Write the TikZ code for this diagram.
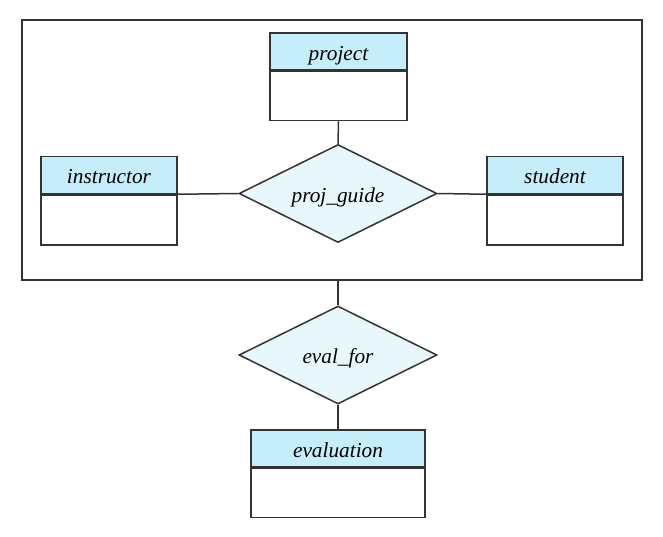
\documentclass[tikz,border=0pt]{standalone}
\usepackage{fontspec}
\newfontfamily\erfont{Liberation Serif Italic}
\usetikzlibrary{shapes.geometric}
\definecolor{hdr}{HTML}{C6EDFA}
\definecolor{dia}{HTML}{E8F7FC}
\definecolor{ln}{HTML}{333333}
\tikzset{
  every node/.style={font=\erfont\fontsize{21.3}{25}\selectfont, text height=17pt, text depth=0pt},
  hd/.style={draw=ln, line width=1.5pt, fill=hdr, rectangle, inner sep=0pt, minimum height=37pt},
  bd/.style={draw=ln, line width=1.5pt, fill=white, rectangle, inner sep=0pt, minimum height=49pt},
  rel/.style={draw=ln, line width=1.5pt, fill=dia, diamond, inner sep=0pt, shape aspect=2, minimum width=198pt, minimum height=98pt},
  conn/.style={draw=ln, line width=1.5pt},
}
\begin{document}
\begin{tikzpicture}[x=1pt,y=-1pt]
\useasboundingbox (0,0) rectangle (663,536);
% aggregation box
\node[draw=ln, line width=1.5pt, rectangle, minimum width=620pt, minimum height=260pt, inner sep=0pt] (agg) at (332,150) {};
% project
\node[hd, minimum width=137pt] (phead) at (338.5,51.5) {project};
\node[bd, minimum width=137pt, anchor=north] (pbody) at (phead.south) {};
% instructor
\node[hd, minimum width=136pt] (ihead) at (109,175) {instructor};
\node[bd, minimum width=136pt, minimum height=50pt, anchor=north] (ibody) at (ihead.south) {};
% student
\node[hd, minimum width=136pt] (shead) at (555,175) {student};
\node[bd, minimum width=136pt, minimum height=50pt, anchor=north] (sbody) at (shead.south) {};
% proj_guide
\node[rel] (pg) at (338,193.5) {proj\_guide};
% eval_for
\node[rel] (ef) at (338,355) {eval\_for};
% evaluation
\node[hd, minimum width=174pt] (ehead) at (338,448.5) {evaluation};
\node[bd, minimum width=174pt, anchor=north] (ebody) at (ehead.south) {};
% connectors
\draw[conn] (pbody.south) -- (pg.north);
\draw[conn] (ihead.south east) -- (pg.west);
\draw[conn] (pg.east) -- (shead.south west);
\draw[conn] (agg.south -| ef.north) -- (ef.north);
\draw[conn] (ef.south) -- (ehead.north);
\end{tikzpicture}
\end{document}
